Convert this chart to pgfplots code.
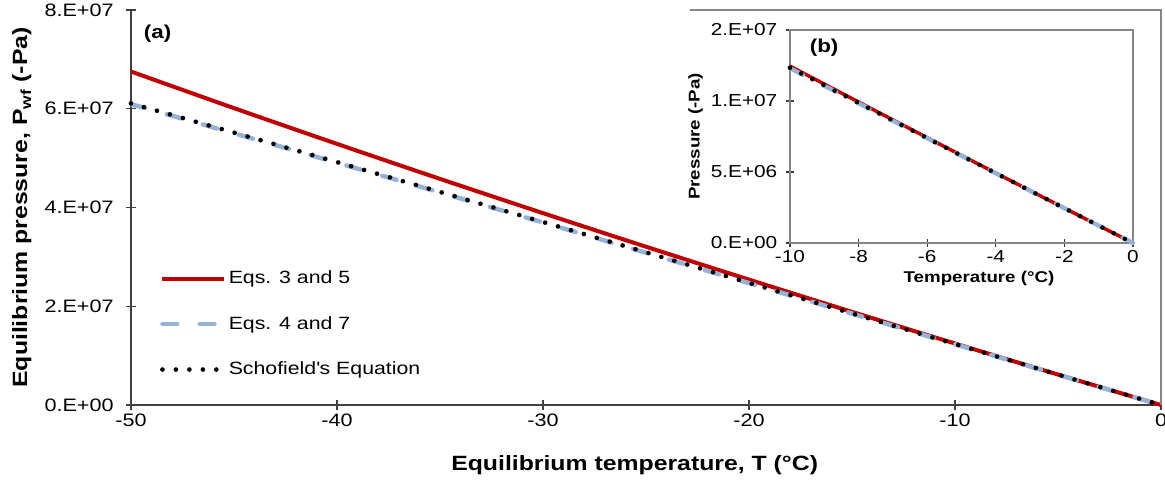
\documentclass[border=0pt]{standalone}
\usepackage{fontspec}
\setmainfont{Liberation Sans}[FakeStretch=1.2]
\usepackage{pgfplots}
\usepackage{pgfplotstable}
\pgfplotsset{compat=1.18}
\definecolor{eqred}{RGB}{192,0,0}
\definecolor{eqblue}{RGB}{149,179,215}
\definecolor{axgray}{RGB}{64,64,64}
\definecolor{frgray}{RGB}{134,134,134}

% T (degC), Eqs. 3 and 5, Eqs. 4 and 7, Schofield (Pa)
\pgfplotstableread{
T    red       blue      scho
-50  67.542e6  60.94e6   61.090e6
-45  60.126e6  55.03e6   55.168e6
-40  52.885e6  49.07e6   49.192e6
-35  45.798e6  43.05e6   43.153e6
-30  38.859e6  36.97e6   37.060e6
-25  32.060e6  30.84e6   30.919e6
-20  25.397e6  24.68e6   24.744e6
-15  18.865e6  18.50e6   18.547e6
-10  12.457e6  12.31e6   12.342e6
-5   6.171e6   6.14e6    6.151e6
0    0         0         0
}\maintab

\pgfplotstableread{
T    red       blue      scho
-10  12.457e6  12.31e6   12.342e6
-9   11.190e6  11.07e6   11.102e6
-8   9.928e6   9.84e6    9.862e6
-7   8.671e6   8.60e6    8.624e6
-6   7.418e6   7.37e6    7.386e6
-5   6.171e6   6.14e6    6.150e6
-4   4.927e6   4.905e6   4.916e6
-3   3.689e6   3.675e6   3.683e6
-2   2.455e6   2.447e6   2.452e6
-1   1.225e6   1.222e6   1.225e6
0    0         0         0
}\insettab

\pgfplotsset{
  redline/.style={draw=eqred, line width=3pt},
  blueline/.style={draw=eqblue, line width=3.4pt, line cap=round, dash pattern=on 11pt off 17pt},
  dotline/.style={draw=black, line width=3.5pt, line cap=round, dash pattern=on 0pt off 10.1pt},
}

\begin{document}
\begin{tikzpicture}
\path[use as bounding box] (0,0) rectangle (873.75pt,364.5pt);

\begin{axis}[
  at={(98.25pt,60.75pt)}, anchor=south west,
  scale only axis, width=772.5pt, height=296.25pt,
  xmin=-50, xmax=0, ymin=0, ymax=8e7,
  axis x line*=bottom, axis y line*=left,
  axis line style={axgray, line width=0.9pt},
  tick style={axgray, line width=0.9pt},
  tick align=center, major tick length=7pt,
  xtick={-50,-40,-30,-20,-10,0},
  xticklabels={-50,-40,-30,-20,-10,0},
  ytick={0,2e7,4e7,6e7,8e7},
  yticklabels={0.E+00,2.E+07,4.E+07,6.E+07,8.E+07},
  scaled y ticks=false,
  tick label style={font=\fontsize{13.5}{15}\selectfont},
  yticklabel style={xshift=-6pt},
  xlabel={\textbf{Equilibrium temperature, T (°C)}},
  ylabel={\textbf{Equilibrium pressure, P\textsubscript{wf} (-Pa)}},
  label style={font=\fontsize{15.5}{17}\selectfont},
  xlabel style={at={(axis description cs:0.489,-0.152)}, anchor=center},
  ylabel style={at={(axis description cs:-0.106,0.5)}, anchor=center},
  clip=false,
  legend style={at={(0.028,0.205)}, anchor=west, draw=none, fill=none,
    inner sep=0pt, row sep=19pt, font=\fontsize{13.3}{15}\selectfont},
  legend cell align=left,
  legend image code/.code={\draw[#1] (0pt,0pt) -- (46pt,0pt);},
]
\addplot[redline, smooth] table[x=T, y=red] {\maintab};
\addlegendentry{Eqs. 3 and 5}
\addplot[blueline, smooth] table[x=T, y=blue] {\maintab};
\addlegendentry{Eqs. 4 and 7}
\addplot[dotline, smooth] table[x=T, y=scho] {\maintab};
\addlegendentry{Schofield\textquotesingle s Equation}
\draw[frgray, line width=0.8pt] (rel axis cs:0.543,1) -- (rel axis cs:1,1) -- (rel axis cs:1,0);
\node[anchor=west, font=\fontsize{14}{16}\selectfont\bfseries] at (axis description cs:0.008,0.94) {(a)};
\end{axis}

\begin{axis}[
  at={(592.5pt,182.25pt)}, anchor=south west,
  scale only axis, width=257.25pt, height=159.75pt,
  xmin=-10, xmax=0, ymin=0, ymax=1.5e7,
  axis line style={frgray, line width=0.8pt},
  tick style={axgray, line width=0.8pt},
  tick align=center, major tick length=6pt,
  xtick pos=bottom, ytick pos=left,
  xtick={-10,-8,-6,-4,-2,0},
  xticklabels={-10,-8,-6,-4,-2,0},
  ytick={0,5e6,1e7,1.5e7},
  yticklabels={0.E+00,5.E+06,1.E+07,2.E+07},
  scaled y ticks=false,
  tick label style={font=\fontsize{13}{15}\selectfont},
  yticklabel style={xshift=-3pt},
  xticklabel style={yshift=1pt},
  xlabel={\textbf{Temperature (°C)}},
  ylabel={\textbf{Pressure  (-Pa)}},
  label style={font=\fontsize{11.7}{13}\selectfont},
  xlabel style={at={(axis description cs:0.551,-0.165)}, anchor=center},
  ylabel style={at={(axis description cs:-0.275,0.5)}, anchor=center},
  clip=false,
]
\addplot[redline, line width=2.6pt] table[x=T, y=red] {\insettab};
\addplot[blueline, line width=3.2pt] table[x=T, y=blue] {\insettab};
\addplot[dotline, dash pattern=on 0pt off 9.4pt] table[x=T, y=scho] {\insettab};
\node[anchor=west, font=\fontsize{14}{16}\selectfont\bfseries] at (axis description cs:0.044,0.915) {(b)};
\end{axis}
\end{tikzpicture}
\end{document}
